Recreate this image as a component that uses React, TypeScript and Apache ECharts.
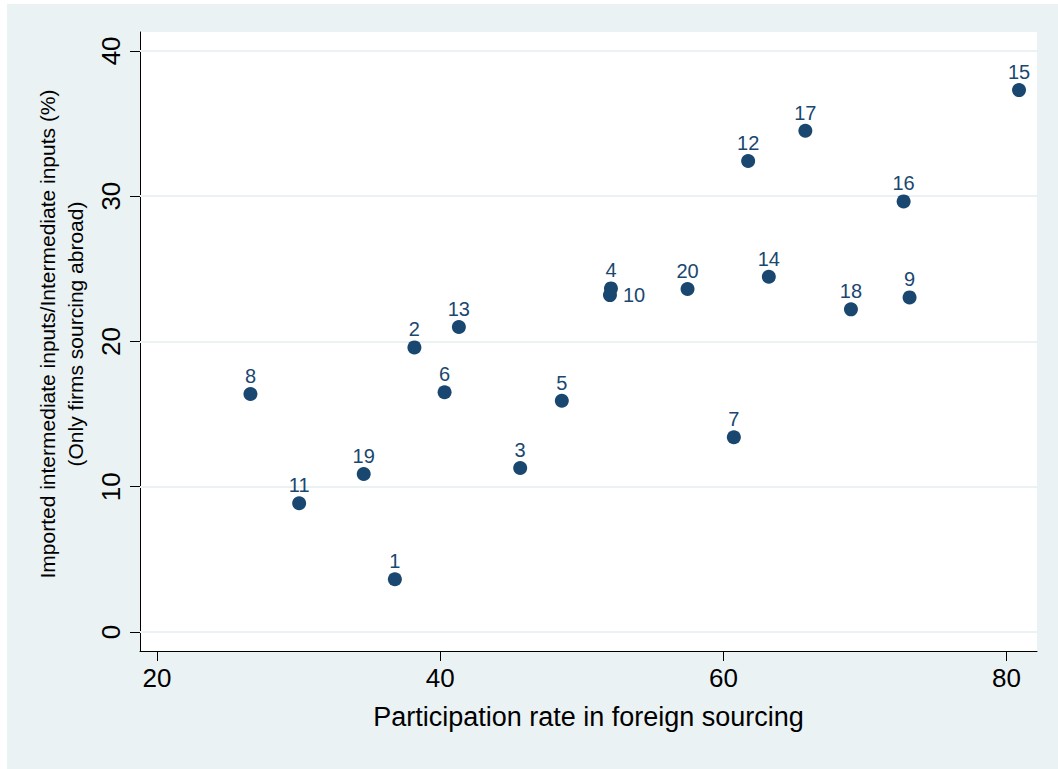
import { useEffect, useRef } from "react";
import * as echarts from "echarts";

const pointLabels = ["1", "2", "3", "4", "5", "6", "7", "8", "9", "10", "11", "12", "13", "14", "15", "16", "17", "18", "19", "20"];
const participation = [36.8, 38.18, 45.65, 52.06, 48.59, 40.31, 60.74, 26.6, 73.15, 51.99, 30.04, 61.75, 41.32, 63.21, 80.88, 72.73, 65.79, 69.01, 34.6, 57.47];
const importShare = [3.63, 19.59, 11.29, 23.65, 15.92, 16.5, 13.4, 16.38, 23.03, 23.19, 8.86, 32.42, 20.99, 24.45, 37.3, 29.64, 34.5, 22.21, 10.87, 23.61];
const labelsOnRight = ["10"];
const xTicks = [20, 40, 60, 80];
const yTicks = [0, 10, 20, 30, 40];

const xTitle = "Participation rate in foreign sourcing";
const yTitle = "Imported intermediate inputs/Intermediate inputs (%)\n(Only firms sourcing abroad)";

const FONT = "'Liberation Sans', Arial, Helvetica, sans-serif";
const NAVY = "#1a476f";
const BG = "#eaf2f3";

export default function App() {
  const ref = useRef<HTMLDivElement>(null);
  useEffect(() => {
    if (!ref.current) return;
    const chart = echarts.init(ref.current, undefined, { renderer: "svg" });
    const points = participation.map((x, i) => {
      const item: any = { value: [x, importShare[i], pointLabels[i]] };
      if (labelsOnRight.includes(pointLabels[i])) {
        item.label = { position: "right", distance: 6 };
      }
      return item;
    });
    chart.setOption({
      animation: false,
      backgroundColor: BG,
      textStyle: { fontFamily: FONT },
      grid: {
        left: 133,
        top: 28,
        width: 897,
        height: 619,
        show: true,
        backgroundColor: "#ffffff",
        borderWidth: 0,
        containLabel: false,
      },
      xAxis: {
        type: "value",
        min: 18.8,
        max: 82.15,
        axisLine: { show: true, onZero: false, lineStyle: { color: "#000", width: 1 } },
        axisTick: { show: true, length: 10, customValues: xTicks, lineStyle: { color: "#000", width: 1 } },
        axisLabel: { customValues: xTicks, fontSize: 26, color: "#000", margin: 14, fontFamily: FONT },
        splitLine: { show: false },
        name: xTitle,
        nameLocation: "middle",
        nameGap: 52,
        nameTextStyle: { fontSize: 27, color: "#000", fontFamily: FONT },
      },
      yAxis: {
        type: "value",
        min: -1.31,
        max: 41.3,
        axisLine: { show: true, onZero: false, lineStyle: { color: "#000", width: 1 } },
        axisTick: { show: true, length: 10, customValues: yTicks, lineStyle: { color: "#000", width: 1 } },
        axisLabel: { customValues: yTicks, rotate: 90, fontSize: 26, color: "#000", margin: 16, fontFamily: FONT },
        splitLine: { show: false },
      },
      graphic: [
        {
          type: "text",
          x: 54,
          y: 330,
          rotation: Math.PI / 2,
          style: {
            text: yTitle,
            fontSize: 21,
            lineHeight: 28,
            fontFamily: FONT,
            fill: "#000",
            align: "center",
            verticalAlign: "middle",
          },
        },
      ],
      series: [
        {
          type: "scatter",
          z: 1,
          data: [],
          silent: true,
          markLine: {
            z: 1,
            silent: true,
            symbol: "none",
            label: { show: false },
            lineStyle: { color: BG, width: 2, type: "solid" },
            data: yTicks.map((v) => ({ yAxis: v })),
          },
        },
        {
          type: "scatter",
          z: 3,
          symbol: "circle",
          symbolSize: 14,
          itemStyle: { color: NAVY, opacity: 1 },
          data: points,
          label: {
            show: true,
            position: "top",
            distance: 1,
            formatter: (p: any) => p.value[2],
            fontSize: 20,
            color: NAVY,
            fontFamily: FONT,
          },
        },
      ],
    });
    return () => chart.dispose();
  }, []);
  return (
    <div
      ref={ref}
      style={{ position: "absolute", left: 7, top: 4, width: 1051, height: 765 }}
    />
  );
}
